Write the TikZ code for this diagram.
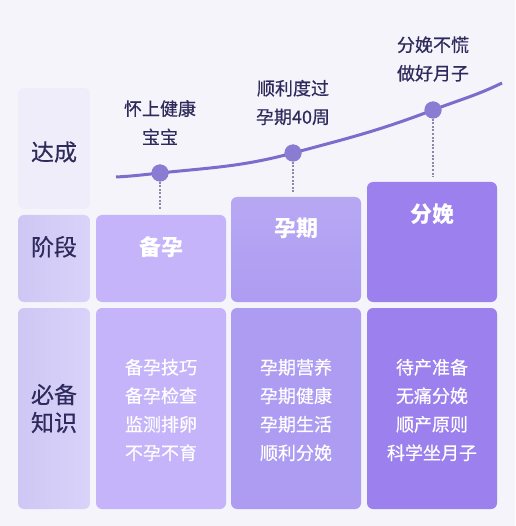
\documentclass[tikz,border=0pt]{standalone}
\usepackage{fontspec}
\setmainfont{Noto Sans CJK SC}
\newfontfamily\medfont{Noto Sans CJK SC}[FakeBold=0.45]
\usepackage{tikz}
\usetikzlibrary{positioning}

\definecolor{bgpage}{HTML}{F5F4FB}
\definecolor{headlight}{HTML}{EFEDF9}
\definecolor{headleft}{HTML}{CEC7F4}
\definecolor{headright}{HTML}{D9D3FA}
\definecolor{stageone}{HTML}{C5B4FA}
\definecolor{stagetwo}{HTML}{AE9CF2}
\definecolor{stagethree}{HTML}{9C81EE}
\definecolor{curvepurple}{HTML}{7C6CCB}
\definecolor{dotpurple}{HTML}{8A7CD3}
\definecolor{guidegrey}{HTML}{8D88A8}
\definecolor{inkdark}{HTML}{2E2A5C}

\begin{document}
\begin{tikzpicture}[
        x=1pt, y=1pt,
        cell/.style={rounded corners=6pt, inner sep=0pt, minimum width=130pt},
        headcell/.style={rounded corners=6pt, inner sep=0pt, minimum width=72pt},
        headtxt/.style={text=inkdark, font=\medfont\fontsize{23}{28}\selectfont, align=center},
        phasetxt/.style={text=white, font=\fontsize{22}{28}\bfseries\selectfont},
        knowtxt/.style={text=white, font=\medfont\fontsize{18}{28.5}\selectfont, align=center},
        goaltxt/.style={text=inkdark, font=\medfont\fontsize{18}{28.5}\selectfont, align=center},
        milestone/.style={circle, fill=dotpurple, minimum size=17pt, inner sep=0pt},
        guide/.style={draw=guidegrey, line width=1.1pt, dash pattern=on 2pt off 1.6pt, shorten >=5pt},
        curve/.style={draw=curvepurple, line width=3pt}
    ]

    % Sfondo
    \fill[bgpage] (0,0) rectangle (515,-526);
    \useasboundingbox (0,0) rectangle (515,-526);

    % Colonna di sinistra
    \node[headcell, fill=headlight, minimum height=121pt] (hgoal) at (54,-148.5) {};
    \node[headcell, left color=headleft, right color=headright, minimum height=87pt] (hstage) at (54,-258.5) {};
    \node[headcell, left color=headleft, right color=headright, minimum height=201pt] (hknow) at (54,-408.5) {};
    \node[headtxt] at (54,-152) {达成};
    \node[headtxt] at ([yshift=-32pt]hstage.north) {阶段};
    \node[headtxt] at (hknow) {必备\\知识};

    % Blocchi delle fasi
    \node[cell, fill=stageone, minimum height=87pt] (ph1) at (161,-258.5) {};
    \node[cell, top color=stagetwo!88!white, bottom color=stagetwo, minimum height=105pt] (ph2) at (296,-249.5) {};
    \node[cell, fill=stagethree, minimum height=120pt] (ph3) at (432,-242) {};
    \node[phasetxt] at ([yshift=-32pt]ph1.north) {备孕};
    \node[phasetxt] at ([yshift=-32pt]ph2.north) {孕期};
    \node[phasetxt] at ([yshift=-32pt]ph3.north) {分娩};

    % Blocchi delle conoscenze
    \node[cell, fill=stageone, minimum height=201pt] (kn1) at (161,-408.5) {};
    \node[cell, fill=stagetwo, minimum height=201pt] (kn2) at (296,-408.5) {};
    \node[cell, fill=stagethree, minimum height=201pt] (kn3) at (432,-408.5) {};
    \node[knowtxt] at ([yshift=-1.5pt]kn1) {备孕技巧\\备孕检查\\监测排卵\\不孕不育};
    \node[knowtxt] at ([yshift=-1.5pt]kn2) {孕期营养\\孕期健康\\孕期生活\\顺利分娩};
    \node[knowtxt] at ([yshift=-1.5pt]kn3) {待产准备\\无痛分娩\\顺产原则\\科学坐月子};

    % Curva dei traguardi
    \coordinate (c0) at (116,-177);
    \coordinate (c1) at (502,-83);
    \node[milestone] (d1) at (160,-173) {};
    \node[milestone] (d2) at (293,-153) {};
    \node[milestone] (d3) at (433,-110) {};
    \draw[curve] (c0) to[out=3,in=186] (d1.center)
                      to[out=6,in=195] (d2.center)
                      to[out=15,in=201] (d3.center)
                      to[out=21,in=206] (c1);
    \node[milestone] at (d1) {};
    \node[milestone] at (d2) {};
    \node[milestone] at (d3) {};

    % Testi dei traguardi
    \node[goaltxt] (g1) at (160,-122.5) {怀上健康\\宝宝};
    \node[goaltxt] (g2) at (293,-102.5) {顺利度过\\孕期40周};
    \node[goaltxt] (g3) at (433,-59) {分娩不慌\\做好月子};

    % Linee tratteggiate verso i blocchi
    \draw[guide] (d1.south) -- (d1 |- ph1.north);
    \draw[guide] (d2.south) -- (d2 |- ph2.north);
    \draw[guide] (d3.south) -- (d3 |- ph3.north);

\end{tikzpicture}
\end{document}
